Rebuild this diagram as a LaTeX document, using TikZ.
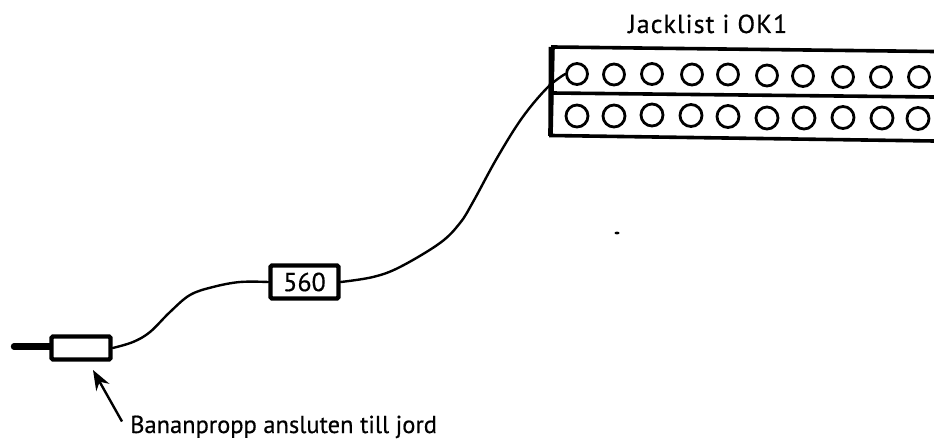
\documentclass[tikz,border=0pt]{standalone}
\usepackage{fontspec}
\setmainfont{PT Sans}[FakeBold=0.5,AutoFakeBold=0.5]
\usetikzlibrary{arrows.meta}
\tikzset{
  jack/.style={circle,draw=black,line width=2.8pt,minimum size=21pt,inner sep=0pt},
  boxa/.style={draw=black,line width=4.4pt,rounded corners=1.5pt,inner sep=0pt,fill=white},
  wire/.style={draw=black,line width=2.4pt,line cap=round},
  rail/.style={draw=black,line width=3.6pt,line cap=round,line join=miter},
  lab/.style={font=\fontsize{24.5pt}{28pt}\selectfont\bfseries,inner sep=0pt,anchor=base west}
}
\begin{document}
\begin{tikzpicture}[x=1pt,y=-1pt]
\useasboundingbox (0,0) rectangle (934,441);
% jack strip
\draw[rail] (934,51.5) -- (553,47) -- (551,135.5) -- (934,141);
\draw[rail] (552,93) -- (934,97);
\draw[draw=black,line width=4.6pt] (551,47) -- (550.5,136);
\foreach \n/\x/\y in {a/577/74,b/614/74.5,c/652/74,d/692/74.5,e/728/74.5,f/767/75.5,g/803/76,h/843/77,i/881/77,j/919/77}
  \node[jack] (t\n) at (\x,\y) {};
\foreach \n/\x/\y in {a/577/116,b/614/116,c/652/115,d/691/115.5,e/728/116.5,f/767/118,g/804/118,h/843/117.5,i/882/118,j/918/118.5}
  \node[jack,minimum size=22pt] (u\n) at (\x,\y) {};
\node[lab,font=\fontsize{26pt}{28pt}\selectfont\bfseries\addfontfeature{LetterSpace=4}] (title) at (628,33) {Jacklist i OK1};
% components
\node[boxa,minimum width=59pt,minimum height=23pt] (plug) at (81,348) {};
\node[boxa,minimum width=68pt,minimum height=33pt,font=\fontsize{26pt}{28pt}\selectfont\bfseries] (res) at (304.5,282) {560};
\coordinate (pin) at (14,346.5);
\draw[draw=black,line width=6.4pt,line cap=round] (pin) -- (plug.west |- pin);
% wires
\draw[wire] plot[smooth,tension=0.6] coordinates {(plug.east) (133,342) (150,332) (170,312) (190,295) (213,287) (240,282) (res.west)};
\draw[wire] plot[smooth,tension=0.6] coordinates {(res.east) (373,277) (400,267) (440,243) (460,223) (473,202) (497,158) (522,118) (547,88) (ta.west)};
% arrow
\node[lab] (note) at (130,433) {Bananpropp ansluten till jord};
\coordinate (tail) at (122,421.5);
\coordinate (tip) at (93,370);
\draw[draw=black,line width=2.4pt,-{Stealth[length=20pt,width=15pt]}] (tail) -- (tip);
% speck
\fill[black] (617,233) ellipse (2.5pt and 1.4pt);
\end{tikzpicture}
\end{document}
